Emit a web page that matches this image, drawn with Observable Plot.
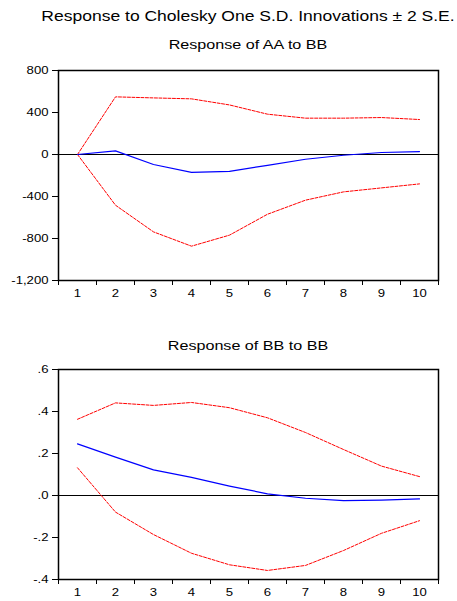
<!DOCTYPE html>
<html><head><meta charset="utf-8">
<script src="https://cdn.jsdelivr.net/npm/d3@7"></script>
<script src="https://cdn.jsdelivr.net/npm/@observablehq/plot@0.6"></script>
<style>
html,body{margin:0;padding:0;background:#fff;overflow:hidden;width:457px;height:601px}
#wrap{position:relative;width:457px;height:601px;font-family:"Liberation Sans",Arial,sans-serif;color:#000}
.t{position:absolute;white-space:nowrap;line-height:1;transform-origin:center;}
.p{position:absolute;left:0;}
</style></head><body><div id="wrap">
<div class="t" id="title" style="top:9px;left:248px;font-size:14px;transform:translateX(-50%) scaleX(1.25)">Response to Cholesky One S.D. Innovations ± 2 S.E.</div>
<div class="t" id="sub1" style="top:37.5px;left:248px;font-size:13px;transform:translateX(-50%) scaleX(1.24)">Response of AA to BB</div>
<div class="p" id="p1" style="top:60px"></div>
<div class="t" id="sub2" style="top:338.5px;left:248px;font-size:13px;transform:translateX(-50%) scaleX(1.24)">Response of BB to BB</div>
<div class="p" id="p2" style="top:359px"></div>
</div>
<script>
const periods = [1,2,3,4,5,6,7,8,9,10];
const aaResponse = [0,34,-95,-171,-160,-103,-45,-7,19,28];
const aaUpper = [0,549,539,530,472,384,346,346,352,333];
const aaLower = [0,-483,-737,-873,-768,-569,-435,-356,-318,-280];
const bbResponse = [0.246,0.183,0.122,0.086,0.045,0.008,-0.013,-0.024,-0.022,-0.016];
const bbUpper = [0.363,0.441,0.429,0.443,0.418,0.37,0.30,0.219,0.14,0.09];
const bbLower = [0.132,-0.079,-0.186,-0.275,-0.33,-0.357,-0.333,-0.262,-0.18,-0.12];
const aaTicks = [800,400,0,-400,-800,-1200];
const bbTicks = [0.6,0.4,0.2,0,-0.2,-0.4];

const aaFmt = d => d.toLocaleString("en-US");
const bbFmt = d => (d < 0 ? "-" : "") + Math.abs(d).toFixed(1).replace(/^0/, "");

function panel(mid, up, lo, yDomain, yTicks, yFmt, height, marginBottom) {
  const rows = arr => periods.map((p, i) => ({p, v: arr[i]}));
  const edges = periods.map(p => p - 0.5).concat([periods[periods.length - 1] + 0.5]);
  return Plot.plot({
    width: 457, height, marginLeft: 58, marginRight: 19, marginTop: 10, marginBottom,
    style: {fontFamily: '"Liberation Sans",Arial,sans-serif', fontSize: "10.5px", color: "#000", background: "transparent", overflow: "visible"},
    x: {type: "linear", domain: [periods[0] - 0.5, periods[periods.length - 1] + 0.5]},
    y: {domain: yDomain},
    marks: [
      Plot.axisX(edges, {tickSize: 5, tickFormat: () => "", label: null, strokeWidth: 1}),
      Plot.axisX(periods, {tickSize: 0, tickPadding: 9, tickFormat: d => String(d), label: null}),
      Plot.axisY(yTicks, {tickSize: 6, tickPadding: 4, tickFormat: yFmt, label: null}),
      Plot.ruleY([0], {stroke: "#000", strokeWidth: 1}),
      Plot.line(rows(up), {x: "p", y: "v", stroke: "#ff0000", strokeWidth: 1, strokeDasharray: "3,1.5"}),
      Plot.line(rows(lo), {x: "p", y: "v", stroke: "#ff0000", strokeWidth: 1, strokeDasharray: "3,1.5"}),
      Plot.line(rows(mid), {x: "p", y: "v", stroke: "#0000ff", strokeWidth: 1.2}),
      Plot.frame({stroke: "#000", strokeWidth: 1.5})
    ]
  });
}

function stretch(svg, k) {
  svg.querySelectorAll("text").forEach(t => {
    const L = t.getComputedTextLength();
    if (L > 0) {
      t.setAttribute("textLength", (L * k).toFixed(2));
      t.setAttribute("lengthAdjust", "spacingAndGlyphs");
    }
  });
}

const s1 = panel(aaResponse, aaUpper, aaLower, [-1200, 800], aaTicks, aaFmt, 245, 25);
document.getElementById("p1").appendChild(s1);
stretch(s1, 1.25);
const s2 = panel(bbResponse, bbUpper, bbLower, [-0.4, 0.6], bbTicks, bbFmt, 242, 22);
document.getElementById("p2").appendChild(s2);
stretch(s2, 1.25);
</script>
</body></html>
